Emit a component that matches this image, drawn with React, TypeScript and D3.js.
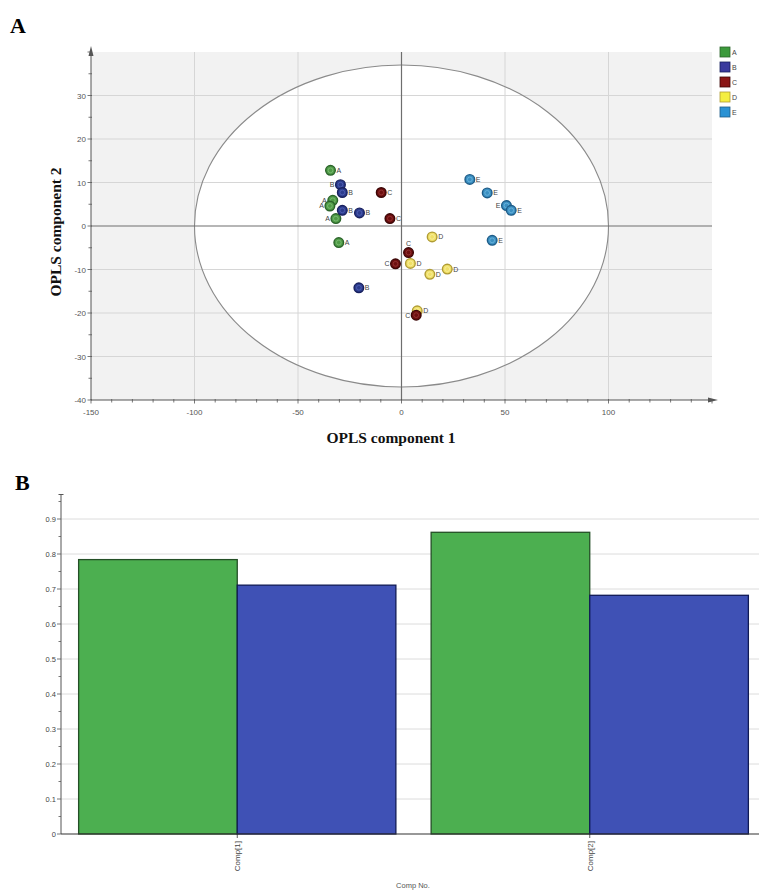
import React from "react";
import * as d3 from "d3";

// ---------- Panel A data (OPLS scores) ----------
const groups = ["A", "B", "C", "D", "E"];
const groupA: [number, number][] = [[-34.3, 12.8], [-33.2, 5.9], [-34.6, 4.6], [-31.7, 1.7], [-30.3, -3.8]];
const groupB: [number, number][] = [[-29.5, 9.5], [-28.6, 7.7], [-28.6, 3.6], [-20.3, 3.0], [-20.6, -14.2]];
const groupC: [number, number][] = [[-9.8, 7.7], [-5.6, 1.7], [3.4, -6.1], [-2.9, -8.7], [7.1, -20.5]];
const groupD: [number, number][] = [[14.8, -2.5], [4.3, -8.6], [13.7, -11.1], [22.1, -9.9], [7.6, -19.5]];
const groupE: [number, number][] = [[33.0, 10.7], [41.4, 7.6], [50.7, 4.7], [53.0, 3.6], [43.8, -3.3]];
const xTicksA = [-150, -100, -50, 0, 50, 100];
const yTicksA = [30, 20, 10, 0, -10, -20, -30, -40];
const ellipseRadiusX = 100;
const ellipseRadiusY = 37;

// ---------- Panel B data ----------
const comps = ["Comp[1]", "Comp[2]"];
const seriesNames = ["R2Y(cum)", "Q2(cum)"];
const r2yValues = [0.784, 0.862];
const q2Values = [0.711, 0.682];
const yTicksB = [0, 0.1, 0.2, 0.3, 0.4, 0.5, 0.6, 0.7, 0.8, 0.9];

// ---------- styles ----------
const fill: Record<string, string> = { A: "#4f9b46", B: "#2c3c8e", C: "#6e0f0f", D: "#f0e068", E: "#3b90c2" };
const stroke: Record<string, string> = { A: "#2b642a", B: "#18205e", C: "#3c0606", D: "#b09c34", E: "#1e5c88" };
const ring: Record<string, string> = { A: "#8cc784", B: "#5b6bc0", C: "#a04040", D: "#fbf3b0", E: "#7cc0e6" };
const legendFill: Record<string, string> = { A: "#3c9a3c", B: "#3a3a9e", C: "#8a1616", D: "#f4ee40", E: "#2a92d4" };
const labelSides: Record<string, string[]> = {
  A: ["r", "l", "l", "l", "r"],
  B: ["l", "r", "r", "r", "r"],
  C: ["r", "r", "t", "l", "l"],
  D: ["r", "r", "r", "r", "r"],
  E: ["r", "r", "l", "r", "r"],
};
const drawOrder = ["A", "B", "D", "C", "E"];
const groupData: Record<string, [number, number][]> = { A: groupA, B: groupB, C: groupC, D: groupD, E: groupE };

const SANS = "'Liberation Sans', Arial, sans-serif";
const SERIF = "'Liberation Serif', 'Times New Roman', serif";

export default function App() {
  // Panel A scales
  const x = d3.scaleLinear().domain([-150, 150]).range([91, 712]);
  const y = d3.scaleLinear().domain([-40, 40]).range([400, 52]);
  const xMinor = d3.range(-150, 151, 10);
  const yMinor = d3.range(-40, 41, 5);

  // Panel B scales
  const xb = d3.scaleBand<string>().domain(comps).range([61, 766]).paddingInner(0.1).paddingOuter(0.05);
  const xs = d3.scaleBand<string>().domain(seriesNames).range([0, xb.bandwidth()]);
  const yb = d3.scaleLinear().domain([0, 0.97]).range([834, 494.5]);
  const yMinorB = d3.range(0, 0.97, 0.05);
  const seriesValues = [r2yValues, q2Values];
  const barFill = ["#4caf50", "#3f51b5"];
  const barStroke = ["#244f26", "#101a55"];

  return (
    <svg width={759} height={890} style={{ position: "absolute", left: 0, top: 0, background: "#fff" }}>
      {/* ================= PANEL A ================= */}
      <text x={10} y={33} fontFamily={SERIF} fontWeight="bold" fontSize={22}>A</text>
      <rect x={x(-150)} y={y(40)} width={x(150) - x(-150)} height={y(-40) - y(40)} fill="#f2f2f2" />
      <ellipse cx={x(0)} cy={y(0)} rx={x(ellipseRadiusX) - x(0)} ry={y(0) - y(ellipseRadiusY)} fill="#fff" />
      {/* grid */}
      {xTicksA.filter((t) => t !== 0 && t !== -150).map((t) => (
        <line key={"gx" + t} x1={x(t)} x2={x(t)} y1={y(40)} y2={y(-40)} stroke="#d6d6d6" strokeWidth={1} />
      ))}
      {yTicksA.filter((t) => t !== 0 && t !== -40).map((t) => (
        <line key={"gy" + t} x1={x(-150)} x2={x(150)} y1={y(t)} y2={y(t)} stroke="#d6d6d6" strokeWidth={1} />
      ))}
      <ellipse cx={x(0)} cy={y(0)} rx={x(ellipseRadiusX) - x(0)} ry={y(0) - y(ellipseRadiusY)} fill="none" stroke="#8a8a8a" strokeWidth={1.1} />
      {/* zero lines */}
      <line x1={x(0)} x2={x(0)} y1={y(40)} y2={y(-40)} stroke="#6e6e6e" strokeWidth={1.2} />
      <line x1={x(-150)} x2={x(150)} y1={y(0)} y2={y(0)} stroke="#6e6e6e" strokeWidth={1.2} />
      {/* axes */}
      <line x1={x(-150)} x2={x(-150)} y1={y(-40)} y2={y(40) - 2} stroke="#555" strokeWidth={1} />
      <path d={`M${x(-150) - 2.5},${y(40) + 4} L${x(-150)},${y(40) - 6} L${x(-150) + 2.5},${y(40) + 4} Z`} fill="#555" />
      <line x1={x(-150)} x2={x(150) + 2} y1={y(-40)} y2={y(-40)} stroke="#555" strokeWidth={1} />
      <path d={`M${x(150) - 4},${y(-40) - 2.5} L${x(150) + 6},${y(-40)} L${x(150) - 4},${y(-40) + 2.5} Z`} fill="#555" />
      {xMinor.map((t) => (
        <line key={"xm" + t} x1={x(t)} x2={x(t)} y1={y(-40) - 1} y2={y(-40) + (t % 50 === 0 ? 3.5 : 2.5)} stroke="#555" strokeWidth={0.8} />
      ))}
      {yMinor.map((t) => (
        <line key={"ym" + t} x1={x(-150) - (t % 10 === 0 ? 3.5 : 2.5)} x2={x(-150) + 1} y1={y(t)} y2={y(t)} stroke="#555" strokeWidth={0.8} />
      ))}
      {xTicksA.map((t) => (
        <text key={"xl" + t} x={x(t)} y={y(-40) + 15} textAnchor="middle" fontFamily={SANS} fontSize={8} fill="#555">{t}</text>
      ))}
      {yTicksA.map((t) => (
        <text key={"yl" + t} x={x(-150) - 5} y={y(t) + 3} textAnchor="end" fontFamily={SANS} fontSize={8} fill="#555">{t}</text>
      ))}
      {/* points */}
      {drawOrder.map((g) =>
        groupData[g].map(([px, py], i) => {
          const cx = x(px);
          const cy = y(py);
          const side = labelSides[g][i];
          const lx = side === "r" ? cx + 6 : side === "l" ? cx - 6 : cx;
          const ly = side === "t" ? cy - 7 : cy + 2.5;
          const anchor = side === "r" ? "start" : side === "l" ? "end" : "middle";
          return (
            <g key={g + i}>
              <circle cx={cx} cy={cy} r={4.8} fill={fill[g]} stroke={stroke[g]} strokeWidth={1.4} />
              <circle cx={cx} cy={cy} r={2.4} fill="none" stroke={ring[g]} strokeWidth={0.8} opacity={0.8} />
              <text x={lx} y={ly} textAnchor={anchor} fontFamily={SANS} fontSize={7} fill="#444">{g}</text>
            </g>
          );
        })
      )}
      {/* legend */}
      {groups.map((g, i) => (
        <g key={"lg" + g}>
          <rect x={720} y={47 + i * 15} width={10} height={10} fill={legendFill[g]} stroke={stroke[g]} strokeWidth={0.8} />
          <text x={732} y={55 + i * 15} fontFamily={SANS} fontSize={7} fill="#444">{g}</text>
        </g>
      ))}
      {/* axis titles */}
      <text x={391} y={443} textAnchor="middle" fontFamily={SERIF} fontWeight="bold" fontSize={15.5} fill="#111">OPLS component 1</text>
      <text transform={`translate(61,232) rotate(-90)`} textAnchor="middle" fontFamily={SERIF} fontWeight="bold" fontSize={15.5} fill="#111">OPLS component 2</text>

      {/* ================= PANEL B ================= */}
      <text x={15} y={490} fontFamily={SERIF} fontWeight="bold" fontSize={22}>B</text>
      {yTicksB.filter((t) => t > 0).map((t) => (
        <line key={"gb" + t} x1={61} x2={759} y1={yb(t)} y2={yb(t)} stroke="#dcdcdc" strokeWidth={1} />
      ))}
      {/* bars */}
      {comps.map((c, ci) =>
        seriesNames.map((s, si) => {
          const bx = (xb(c) as number) + (xs(s) as number);
          const v = seriesValues[si][ci];
          return (
            <rect key={c + s} x={bx} y={yb(v)} width={xs.bandwidth()} height={yb(0) - yb(v)} fill={barFill[si]} stroke={barStroke[si]} strokeWidth={1.3} />
          );
        })
      )}
      {/* y axis */}
      <line x1={61} x2={61} y1={yb(0)} y2={yb(0.97)} stroke="#555" strokeWidth={1} />
      <line x1={58.5} x2={63.5} y1={yb(0.97)} y2={yb(0.97)} stroke="#555" strokeWidth={1} />
      {yMinorB.map((t, i) => (
        <line key={"bm" + i} x1={i % 2 === 0 ? 57 : 58.5} x2={61} y1={yb(t)} y2={yb(t)} stroke="#555" strokeWidth={0.8} />
      ))}
      {yTicksB.map((t) => (
        <text key={"bl" + t} x={56} y={yb(t) + 3} textAnchor="end" fontFamily={SANS} fontSize={7.5} fill="#444">{t === 0 ? "0" : t.toFixed(1)}</text>
      ))}
      {/* x axis */}
      <line x1={61} x2={759} y1={yb(0)} y2={yb(0)} stroke="#333" strokeWidth={1.2} />
      {comps.map((c) => {
        const cx = (xb(c) as number) + xb.bandwidth() / 2;
        return (
          <g key={"xt" + c}>
            <line x1={cx} x2={cx} y1={yb(0)} y2={yb(0) + 4} stroke="#333" strokeWidth={0.8} />
            <text transform={`translate(${cx + 3},${yb(0) + 7}) rotate(-90)`} textAnchor="end" fontFamily={SANS} fontSize={8} fill="#444">{c}</text>
          </g>
        );
      })}
      <text x={413} y={888} textAnchor="middle" fontFamily={SANS} fontSize={7.5} fill="#555">Comp No.</text>
    </svg>
  );
}
